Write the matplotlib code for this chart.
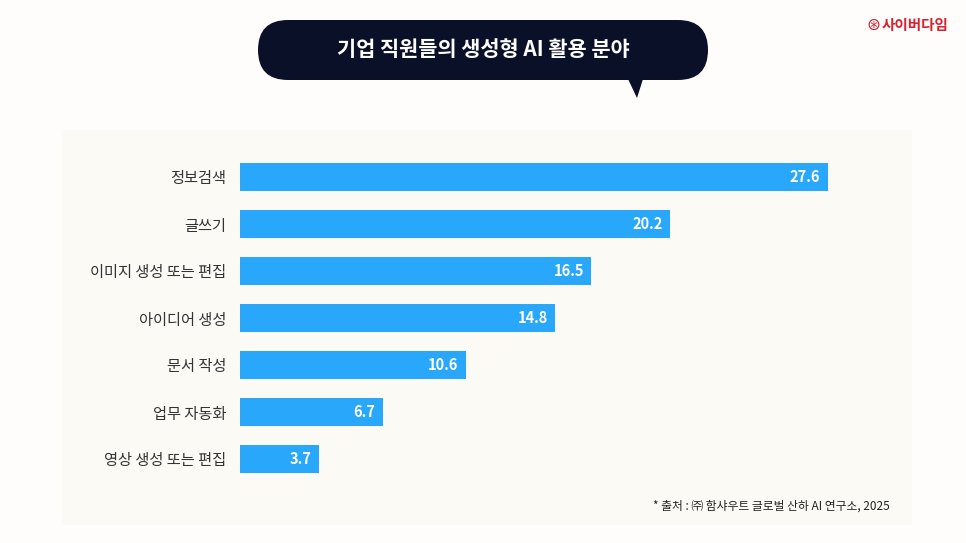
import matplotlib.pyplot as plt
from matplotlib import font_manager
from matplotlib.patches import FancyBboxPatch, Polygon, Rectangle

cjk = [f.name for f in font_manager.fontManager.ttflist
       if "CJK" in f.name and "Sans" in f.name]
kr = [n for n in cjk if "KR" in n] or cjk
plt.rcParams["font.family"] = [kr[0] if kr else "Noto Sans CJK KR", "DejaVu Sans"]

categories = ["정보검색", "글쓰기", "이미지 생성 또는 편집", "아이디어 생성",
              "문서 작성", "업무 자동화", "영상 생성 또는 편집"]
values = [27.6, 20.2, 16.5, 14.8, 10.6, 6.7, 3.7]

W, H = 966, 543
fig = plt.figure(figsize=(W / 100, H / 100), dpi=100)
fig.patch.set_facecolor("#fefdfb")

# background layer in pixel coordinates
bg = fig.add_axes([0, 0, 1, 1], zorder=-1)
bg.set_xlim(0, W)
bg.set_ylim(H, 0)
bg.axis("off")
bg.add_patch(Rectangle((62, 130), 850, 395, facecolor="#fcfaf5", edgecolor="none"))

navy = "#0b1029"
bg.add_patch(FancyBboxPatch((258, 20), 450, 60, boxstyle="round,pad=0,rounding_size=30",
                            facecolor=navy, edgecolor="none"))
bg.add_patch(Polygon([(628, 79), (643, 79), (637, 98)], closed=True,
                     facecolor=navy, edgecolor="none"))
bg.text(483, 49, "기업 직원들의 생성형 AI 활용 분야", color="white",
        fontsize=15, fontweight="bold", ha="center", va="center")

# logo
bg.text(880, 25, "⊛", color="#d9202e", fontsize=12, ha="right", va="center",
        fontfamily="DejaVu Sans")
bg.text(882, 25, "사이버다임", color="#d9202e", fontsize=10.5,
        fontweight="bold", ha="left", va="center")

bg.text(890, 506, "* 출처 : ㈜ 함샤우트 글로벌 산하 AI 연구소, 2025",
        fontsize=8.5, color="#222222", ha="right", va="center")

# bars
ax = fig.add_axes([240 / W, 1 - 482.5 / H, 639 / W, 329 / H])
ax.set_facecolor("none")
pos = range(len(categories))
ax.barh(pos, values, height=0.6, color="#29a8fb")
for i, v in zip(pos, values):
    ax.text(v - 0.35, i, f"{v}", color="white", fontsize=10.5, fontweight="bold",
            ha="right", va="center")
ax.set_xlim(0, 30)
ax.set_ylim(len(categories) - 0.5, -0.5)
ax.set_yticks(list(pos))
ax.set_yticklabels(categories, fontsize=11, color="#333333")
ax.tick_params(axis="y", length=0, pad=10)
ax.set_xticks([])
for s in ax.spines.values():
    s.set_visible(False)

fig.savefig("out.png", dpi=100, facecolor=fig.get_facecolor())
